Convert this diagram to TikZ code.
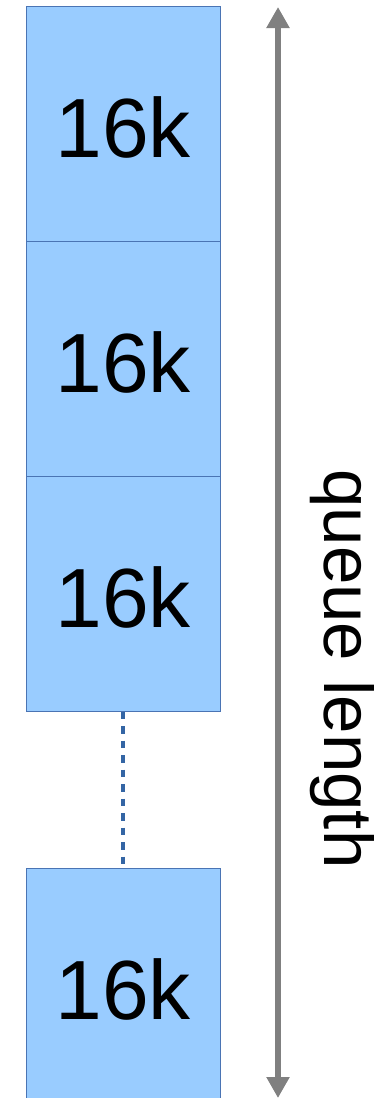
\documentclass[tikz,border=0pt]{standalone}
\usepackage{fontspec}
\setmainfont{Liberation Sans}
\usetikzlibrary{arrows.meta}
\definecolor{boxfill}{HTML}{99CCFF}
\definecolor{boxline}{HTML}{4A74B4}
\definecolor{dotline}{HTML}{3465A4}
\definecolor{arrgray}{HTML}{808080}
\begin{document}
\begin{tikzpicture}[x=1pt,y=-1pt,
  blk/.style={draw=boxline, line width=1pt, fill=boxfill, minimum width=193.5pt, minimum height=235pt, inner sep=0pt, anchor=north west},
  blklabel/.style={font=\fontsize{84}{84}\selectfont, inner sep=0pt},
  gap/.style={draw=dotline, line width=4pt, dash pattern=on 7.5pt off 7pt},
  measure/.style={draw=arrgray, line width=6.5pt, {Triangle[width=22pt,length=21pt]}-{Triangle[width=22pt,length=21pt]}}
]
\useasboundingbox (0,0) rectangle (377,1098);
\begin{scope}
\clip (0,0) rectangle (377,1098);
\node[blk] (b1) at (26,5.5) {};
\node[blk] (b2) at (26,240.5) {};
\node[blk] (b3) at (26,475.5) {};
\node[blk] (b4) at (26,867.5) {};
\node[blklabel] (t1) at ([yshift=-4pt]b1.center) {16k};
\node[blklabel] (t2) at ([yshift=-4pt]b2.center) {16k};
\node[blklabel] (t3) at ([yshift=-4pt]b3.center) {16k};
\node[blklabel] (t4) at ([yshift=-4pt]b4.center) {16k};
\draw[gap] (b3.south) -- (b4.north);
\coordinate (atop) at (278,7);
\coordinate (abot) at (278,1098);
\draw[measure] (atop) -- (abot);
\node[font=\fontsize{69}{69}\selectfont, rotate=-90, inner sep=0pt] (ql) at (342,669) {queue length};
\end{scope}
\end{tikzpicture}
\end{document}
